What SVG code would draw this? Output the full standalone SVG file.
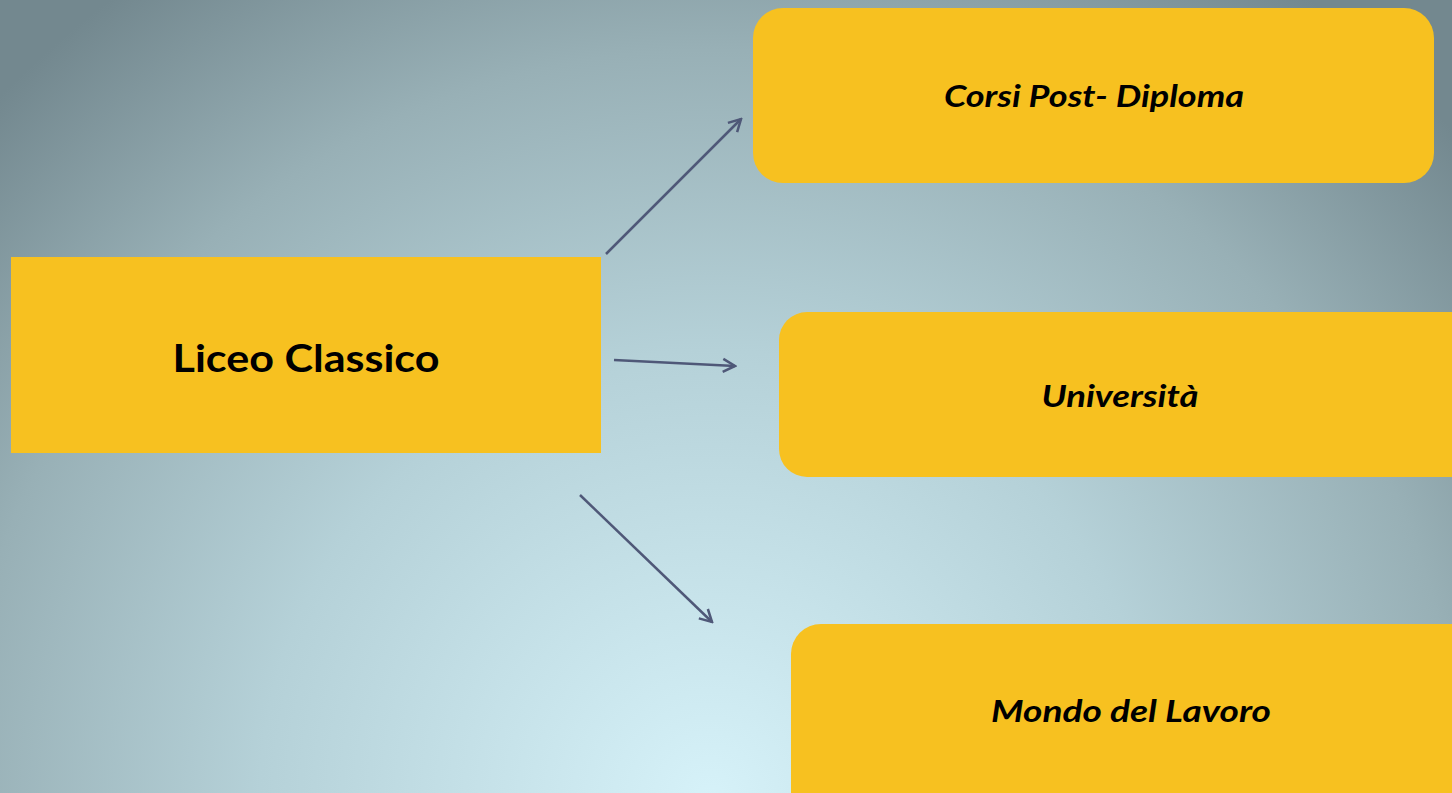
<svg xmlns="http://www.w3.org/2000/svg" width="1452" height="793" viewBox="0 0 1452 793">
<defs>
<radialGradient id="bg" gradientUnits="userSpaceOnUse" cx="710" cy="800" r="1000">
<stop offset="0" stop-color="#d6f2f9"/>
<stop offset="0.45" stop-color="#b5d1d8"/>
<stop offset="0.75" stop-color="#98b0b6"/>
<stop offset="1" stop-color="#73888f"/>
</radialGradient>
<marker id="arr" viewBox="0 0 16 16" refX="14" refY="8" markerWidth="16" markerHeight="16" markerUnits="userSpaceOnUse" orient="auto">
<path d="M2,1.5 L14,8 L2,14.5" fill="none" stroke="#4f5878" stroke-width="2.5"/>
</marker>
</defs>
<style>
.box{fill:#f7c120;}
.lbl{font-family:Lato,"Open Sans","Liberation Sans",sans-serif;font-weight:bold;fill:#000;text-anchor:middle;}
.it{font-style:italic;font-size:30px;}
.con{stroke:#4f5878;stroke-width:2.5;fill:none;marker-end:url(#arr);}
</style>
<rect x="0" y="0" width="1452" height="793" fill="url(#bg)"/>
<g id="connectors">
<line class="con" x1="606" y1="254" x2="741" y2="119"/>
<line class="con" x1="614" y1="360" x2="735" y2="366"/>
<line class="con" x1="580" y1="495" x2="712" y2="622"/>
</g>
<g id="liceo">
<rect class="box" x="11" y="257" width="590" height="196"/>
<text class="lbl" x="306" y="372" font-size="38" textLength="267" lengthAdjust="spacingAndGlyphs">Liceo Classico</text>
</g>
<g id="corsi">
<rect class="box" x="753" y="8" width="681" height="175" rx="30" ry="30"/>
<text class="lbl it" x="1094" y="107" textLength="300" lengthAdjust="spacingAndGlyphs">Corsi Post- Diploma</text>
</g>
<g id="universita">
<rect class="box" x="779" y="312" width="700" height="165" rx="28" ry="28"/>
<text class="lbl it" x="1120" y="407" textLength="157" lengthAdjust="spacingAndGlyphs">Università</text>
</g>
<g id="mondo">
<rect class="box" x="791" y="624" width="700" height="200" rx="30" ry="30"/>
<text class="lbl it" x="1131" y="722" textLength="280" lengthAdjust="spacingAndGlyphs">Mondo del Lavoro</text>
</g>
</svg>
